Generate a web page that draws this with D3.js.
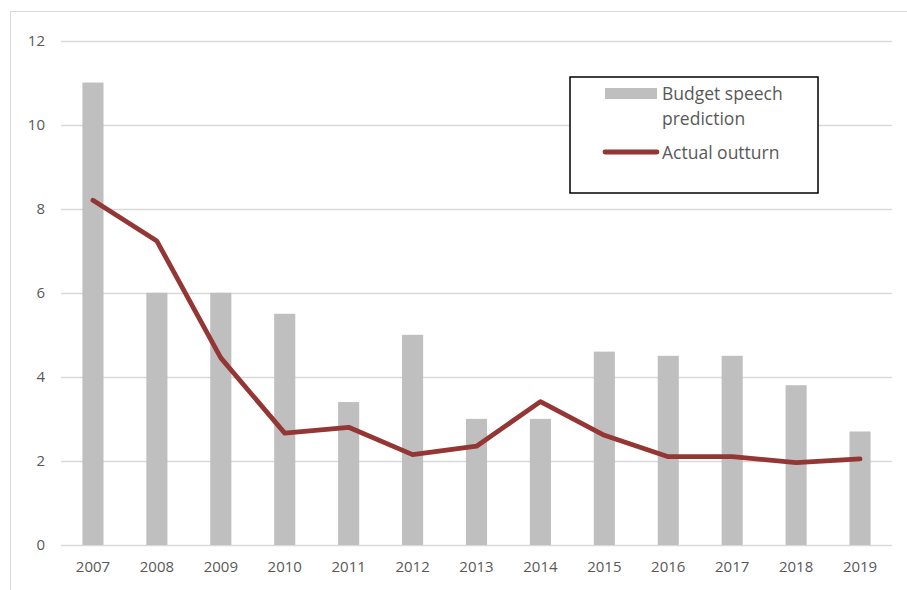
<!DOCTYPE html>
<html><head><meta charset="utf-8">
<script src="https://cdn.jsdelivr.net/npm/d3@7"></script>
<style>body{margin:0;background:#fff}svg{display:block;font-family:"Open Sans","Noto Sans",sans-serif}</style>
</head><body>
<script>
const years = ["2007","2008","2009","2010","2011","2012","2013","2014","2015","2016","2017","2018","2019"];
const budgetPrediction = [11, 6, 6, 5.5, 3.4, 5, 3, 3, 4.6, 4.5, 4.5, 3.8, 2.7];
const actualOutturn = [8.2, 7.23, 4.45, 2.66, 2.8, 2.15, 2.35, 3.41, 2.61, 2.1, 2.1, 1.96, 2.05];
const yTicks = [0, 2, 4, 6, 8, 10, 12];
const legendLabels = [["Budget speech", "prediction"], ["Actual outturn"]];

const W = 907, H = 590;
const svg = d3.select("body").append("svg").attr("width", W).attr("height", H);
svg.append("rect").attr("x", 10.5).attr("y", 11.5).attr("width", W).attr("height", H)
  .attr("fill", "none").attr("stroke", "#d9d9d9");

const x = d3.scaleBand().domain(years).range([61, 892]).paddingInner(0.67).paddingOuter(0.335);
const y = d3.scaleLinear().domain([0, 12]).range([545, 40.5]);

const grid = svg.append("g");
grid.selectAll("line").data(yTicks).join("line")
  .attr("x1", 61).attr("x2", 892)
  .attr("y1", d => Math.round(y(d)) + 0.5).attr("y2", d => Math.round(y(d)) + 0.5)
  .attr("stroke", "#d9d9d9").attr("stroke-width", 1.3);

const yAxis = svg.append("g").attr("transform", "translate(45,0)")
  .call(d3.axisLeft(y).tickValues(yTicks).tickSize(0).tickPadding(0));
yAxis.select(".domain").remove();
yAxis.selectAll("text").attr("fill", "#595959").attr("font-size", 15).attr("font-family", "Open Sans");

svg.append("g").selectAll("rect").data(years).join("rect")
  .attr("x", d => x(d)).attr("width", x.bandwidth())
  .attr("y", (d, i) => y(budgetPrediction[i]))
  .attr("height", (d, i) => y(0) - y(budgetPrediction[i]))
  .attr("fill", "#bfbfbf");

const xAxis = svg.append("g").attr("transform", "translate(0,561)")
  .call(d3.axisBottom(x).tickSize(0).tickPadding(0));
xAxis.select(".domain").remove();
xAxis.selectAll("text").attr("fill", "#595959").attr("font-size", 15).attr("font-family", "Open Sans").attr("dy", "0.71em");

const line = d3.line().x((d, i) => x(years[i]) + x.bandwidth() / 2).y(d => y(d));
svg.append("path").datum(actualOutturn).attr("d", line)
  .attr("fill", "none").attr("stroke", "#943634").attr("stroke-width", 4.8)
  .attr("stroke-linejoin", "round").attr("stroke-linecap", "round");

// legend
const lg = svg.append("g");
lg.append("rect").attr("x", 570).attr("y", 77).attr("width", 248).attr("height", 116)
  .attr("fill", "#fff").attr("stroke", "#000").attr("stroke-width", 1.5);
lg.append("rect").attr("x", 605).attr("y", 88).attr("width", 52).attr("height", 11).attr("fill", "#bfbfbf");
lg.append("line").attr("x1", 605).attr("x2", 657).attr("y1", 152).attr("y2", 152)
  .attr("stroke", "#943634").attr("stroke-width", 4.8).attr("stroke-linecap", "round");
const t1 = lg.append("text").attr("x", 662).attr("y", 100).attr("fill", "#595959").attr("font-size", 17.5);
legendLabels[0].forEach((s, i) => t1.append("tspan").attr("x", 662).attr("dy", i ? 25 : 0).text(s));
lg.append("text").attr("x", 662).attr("y", 159).attr("fill", "#595959").attr("font-size", 17.5).text(legendLabels[1][0]);
</script>
</body></html>
